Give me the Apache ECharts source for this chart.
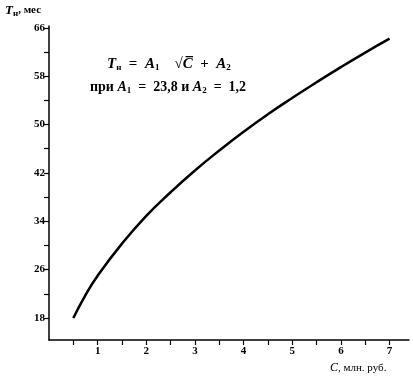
<!DOCTYPE html>
<html>
<head>
<meta charset="utf-8">
<script src="https://cdn.jsdelivr.net/npm/echarts@6/dist/echarts.min.js"></script>
<style>html,body{margin:0;padding:0;background:#fff}#c{width:413px;height:381px}</style>
</head>
<body>
<div id="c"></div>
<script>
// Data
const costC = [0.5, 0.75, 1, 1.5, 2, 2.5, 3, 3.5, 4, 4.5, 5, 5.5, 6, 6.5, 7];
const termT = [18.0, 21.8, 25.0, 30.3, 34.9, 38.8, 42.4, 45.7, 48.8, 51.7, 54.4, 57.0, 59.5, 61.9, 64.2];
const xTicks = [0.5, 1, 1.5, 2, 2.5, 3, 3.5, 4, 4.5, 5, 5.5, 6, 6.5, 7];
const xLabels = [1, 2, 3, 4, 5, 6, 7];
const yTicks = [18, 22, 26, 30, 34, 38, 42, 46, 50, 54, 58, 62, 66];
const yLabels = [18, 26, 34, 42, 50, 58, 66];

const serif = 'Liberation Serif';
const chart = echarts.init(document.getElementById('c'), null, {renderer: 'canvas'});
chart.setOption({
  animation: false,
  backgroundColor: '#fff',
  grid: {left: 49, right: 4, top: 26, bottom: 41},
  xAxis: {
    type: 'value', min: 0, max: 7.4,
    axisLine: {lineStyle: {color: '#000', width: 1.5}},
    axisTick: {show: true, inside: false, length: 5, customValues: xTicks, lineStyle: {color: '#000', width: 1.2}},
    axisLabel: {customValues: xLabels, color: '#000', fontFamily: serif, fontSize: 11, fontWeight: 'bold', margin: 6},
    splitLine: {show: false}
  },
  yAxis: {
    type: 'value', min: 14.36, max: 66.3,
    axisLine: {show: true, lineStyle: {color: '#000', width: 1.5}},
    axisTick: {show: true, inside: false, length: 5, customValues: yTicks, lineStyle: {color: '#000', width: 1.2}},
    axisLabel: {customValues: yLabels, color: '#000', fontFamily: serif, fontSize: 11, fontWeight: 'bold', margin: 4},
    splitLine: {show: false}
  },
  series: [{
    type: 'line', data: costC.map((c, i) => [c, termT[i]]), smooth: true, symbol: 'none',
    lineStyle: {color: '#000', width: 2.5}
  }],
  graphic: [
    {type: 'text', left: 5, top: 4, style: {
      text: '{i|T}{s|н}{n|, мес}', fill: '#000',
      rich: {
        i: {fontFamily: serif, fontStyle: 'italic', fontWeight: 'bold', fontSize: 13},
        s: {fontFamily: serif, fontWeight: 'bold', fontSize: 9, verticalAlign: 'bottom', padding: [6, 0, 0, 0]},
        n: {fontFamily: serif, fontWeight: 'bold', fontSize: 11}
      }}},
    {type: 'text', left: 330, top: 362, style: {
      text: '{i|C}{n|, млн. руб.}', fill: '#000',
      rich: {
        i: {fontFamily: serif, fontStyle: 'italic', fontSize: 12},
        n: {fontFamily: serif, fontSize: 11}
      }}},
    {type: 'text', left: 107, top: 57, style: {
      text: '{i|T}{s|н}{n|  =  }{i|A}{s|1}{n|    √}{i|C\u0305}{n|  +  }{i|A}{s|2}', fill: '#000',
      rich: {
        i: {fontFamily: serif, fontStyle: 'italic', fontWeight: 'bold', fontSize: 15},
        s: {fontFamily: serif, fontWeight: 'bold', fontSize: 9, verticalAlign: 'bottom', padding: [7, 0, 0, 0]},
        n: {fontFamily: serif, fontWeight: 'bold', fontSize: 15}
      }}},
    {type: 'text', left: 90, top: 80, style: {
      text: '{n|при }{i|A}{s|1}{n|  =  23,8 и }{i|A}{s|2}{n|  =  1,2}', fill: '#000',
      rich: {
        i: {fontFamily: serif, fontStyle: 'italic', fontWeight: 'bold', fontSize: 14},
        s: {fontFamily: serif, fontWeight: 'bold', fontSize: 9, verticalAlign: 'bottom', padding: [7, 0, 0, 0]},
        n: {fontFamily: serif, fontWeight: 'bold', fontSize: 14}
      }}}
  ]
});
</script>
</body>
</html>
